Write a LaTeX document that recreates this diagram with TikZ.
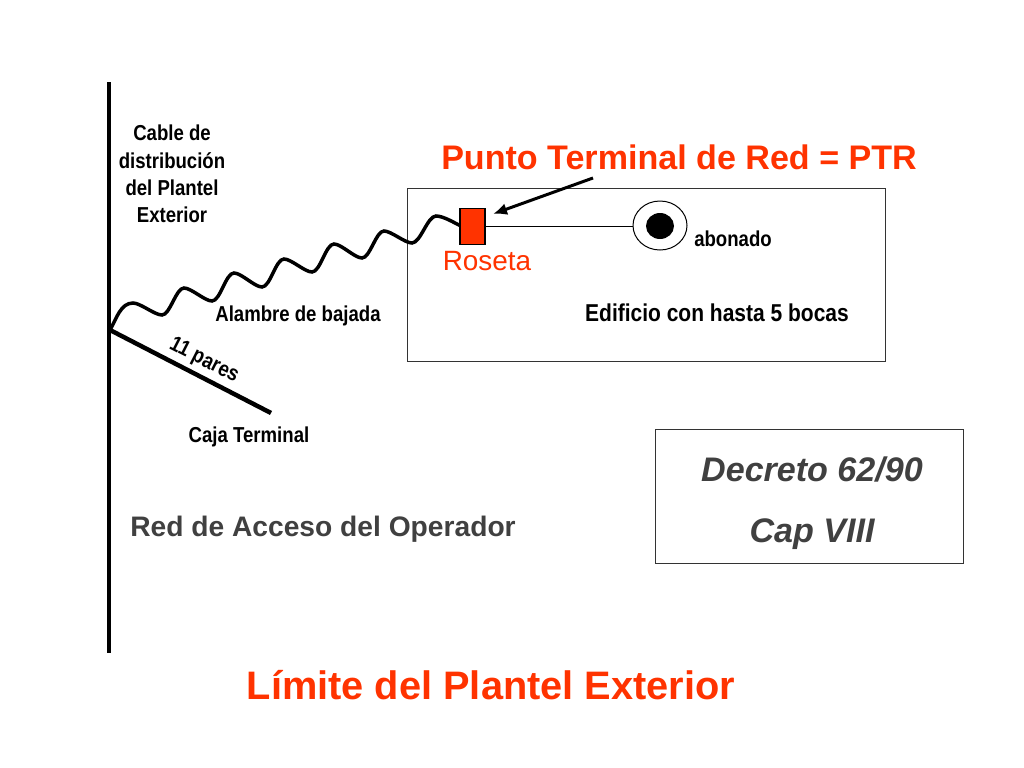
\documentclass[tikz,border=0pt]{standalone}
\usepackage{fontspec}
\setmainfont{Liberation Sans}
\newfontfamily\narrowfont[FakeStretch=0.86]{Liberation Sans}
\usetikzlibrary{arrows.meta,shapes.geometric}
\definecolor{ptrred}{HTML}{FF3300}
\definecolor{txtgray}{HTML}{404040}
\tikzset{
  caja/.style={draw=black!80,line width=1pt,fill=white,inner sep=0pt},
  narrowlabel/.style={font=\narrowfont\bfseries\fontsize{21.7}{27.3}\selectfont,align=center,inner sep=0pt},
  redlabel/.style={font=\bfseries,text=ptrred,inner sep=0pt},
  graylabel/.style={font=\bfseries,text=txtgray,inner sep=0pt},
  thickwire/.style={line width=4.5pt},
  waveup/.style={out=0,in=180,looseness=.6},
  wavedown/.style={out=0,in=180,looseness=.6}
}
\begin{document}
\begin{tikzpicture}

\useasboundingbox (0bp,0bp) rectangle (1024bp,-768bp);

\node (Edificio) at (646bp,-274.5bp)[caja,minimum width=478bp,minimum height=173bp] {};
\node (Decreto) at (809.5bp,-496.5bp)[caja,minimum width=308bp,minimum height=134bp] {};

\coordinate (PoleTop) at (109bp,-82bp);
\coordinate (PoleBot) at (109bp,-653bp);
\coordinate (Joint) at (110bp,-330bp);
\coordinate (CajaEnd) at (271bp,-413bp);
\coordinate (ArrowStart) at (593bp,-178bp);
\coordinate (W1) at (133bp,-303bp);
\coordinate (W2) at (162bp,-315bp);
\coordinate (W3) at (184bp,-288bp);
\coordinate (W4) at (212bp,-301bp);
\coordinate (W5) at (234bp,-273bp);
\coordinate (W6) at (262bp,-287bp);
\coordinate (W7) at (284bp,-259bp);
\coordinate (W8) at (312bp,-272bp);
\coordinate (W9) at (334bp,-244bp);
\coordinate (W10) at (362bp,-258bp);
\coordinate (W11) at (384bp,-231bp);
\coordinate (W12) at (412bp,-243bp);
\coordinate (W13) at (436bp,-216bp);

\node (Outlet) at (660bp,-225.5bp)[draw=black,line width=1pt,fill=white,ellipse,minimum width=54bp,minimum height=49bp,inner sep=0pt] {};
\node (OutletCore) at (660bp,-226bp)[fill=black,ellipse,minimum width=28bp,minimum height=26bp,inner sep=0pt] {};

\draw [line width=3.5pt] (Joint) to[out=60,in=180,looseness=.9] (W1) to[wavedown] (W2)
  to[waveup] (W3) to[wavedown] (W4)
  to[waveup] (W5) to[wavedown] (W6)
  to[waveup] (W7) to[wavedown] (W8)
  to[waveup] (W9) to[wavedown] (W10)
  to[waveup] (W11) to[wavedown] (W12)
  to[waveup] (W13) to[out=0,in=155,looseness=.7] (461bp,-226bp);

\node (Roseta) at (472bp,-226.5bp)[draw=black,line width=2pt,fill=ptrred,minimum width=25bp,minimum height=36bp,inner sep=0pt] {};

\draw [line width=1pt] (Roseta) -- (Roseta -| Outlet.west);
\draw [thickwire] (PoleTop) -- (PoleBot);
\draw [thickwire] (Joint) -- (CajaEnd);
\draw [-{Latex[length=14bp,width=12bp]},line width=3pt] (ArrowStart) -- (493bp,-214bp);

\node (LblCable) at (172bp,-174bp)[narrowlabel] {Cable de\\distribución\\del Plantel\\Exterior};
\node (LblAlambre) at (298bp,-316bp)[narrowlabel] {Alambre de bajada};
\node (LblPares) at (204bp,-361bp)[narrowlabel,rotate=-27] {11 pares};
\node (LblCaja) at (249bp,-437bp)[narrowlabel] {Caja Terminal};
\node (LblAbonado) at (733bp,-239bp)[narrowlabel] {abonado};
\node (LblEdificio) at (717bp,-312.5bp)[narrowlabel,font=\narrowfont\bfseries\fontsize{24.5}{29}\selectfont] {Edificio con hasta 5 bocas};
\node (LblPtr) at (679bp,-157bp)[redlabel,font=\bfseries\fontsize{34.2}{40}\selectfont] {Punto Terminal de Red = PTR};
\node (LblRoseta) at (487bp,-261bp)[inner sep=0pt,text=ptrred,font=\fontsize{28}{32}\selectfont] {Roseta};
\node (LblRed) at (323bp,-529.5bp)[graylabel,font=\bfseries\fontsize{28.3}{32}\selectfont] {Red de Acceso del Operador};
\node (LblDecreto) at (812bp,-469bp)[graylabel,font=\bfseries\itshape\fontsize{34.2}{40}\selectfont] {Decreto 62/90};
\node (LblCap) at (812bp,-534.5bp)[graylabel,font=\bfseries\itshape\fontsize{34.2}{40}\selectfont] {Cap VIII};
\node (LblLimite) at (491bp,-685bp)[redlabel,font=\bfseries\fontsize{39.9}{46}\selectfont] {Límite del Plantel Exterior};
\end{tikzpicture}
\end{document}
